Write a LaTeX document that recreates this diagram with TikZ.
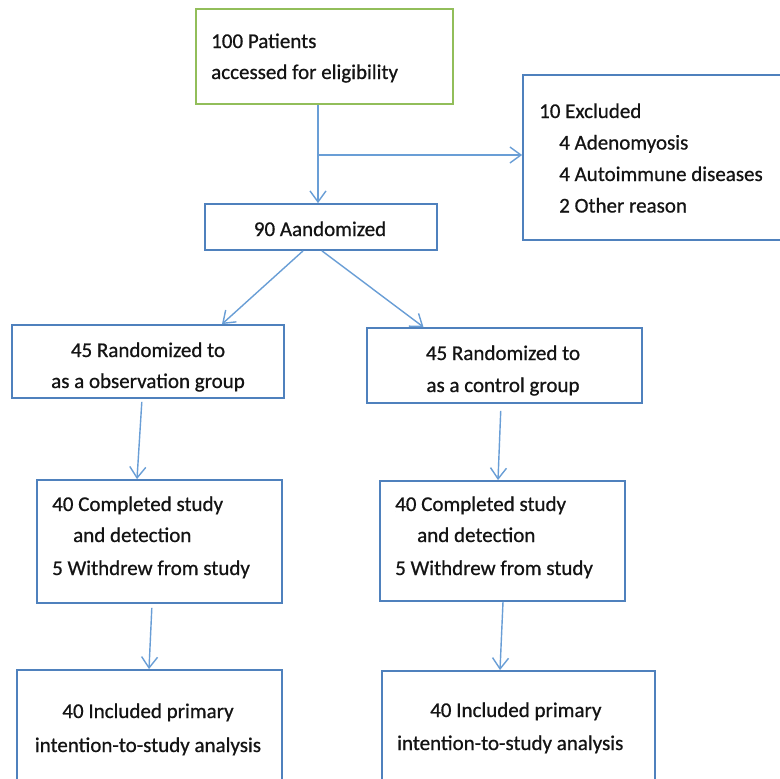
\documentclass[tikz,border=0pt]{standalone}
\usepackage{fontspec}
\setmainfont{Carlito}[FakeBold=0.7]
\usetikzlibrary{arrows.meta}
\definecolor{boxblue}{RGB}{79,129,189}
\definecolor{arrblue}{RGB}{105,158,214}
\definecolor{boxgreen}{RGB}{146,190,90}
\begin{document}
\begin{tikzpicture}[x=1pt,y=-1pt,
  box/.style={draw=boxblue, line width=1.8pt, rectangle, inner sep=0pt},
  gbox/.style={box, draw=boxgreen},
  txt/.style={font=\fontsize{21}{32}\selectfont, inner sep=0pt, text=black!92},
  arr/.style={draw=arrblue, line width=1.4pt, -{Straight Barb[length=11pt,width=16pt]}}]
\useasboundingbox (0,0) rectangle (779,779);
\fill[white] (0,0) rectangle (779,779);

% boxes
\node[gbox, minimum width=257pt, minimum height=95pt] (top) at (324.5,56.5) {};
\node[box, minimum width=277pt, minimum height=165pt] (excl) at (661.5,157.5) {};
\node[box, minimum width=232pt, minimum height=46pt] (rand) at (321,227) {};
\node[box, minimum width=272pt, minimum height=73pt] (obs) at (148,361.5) {};
\node[box, minimum width=275pt, minimum height=75pt] (ctl) at (504.5,365.5) {};
\node[box, minimum width=245pt, minimum height=123pt] (compL) at (159.5,541.5) {};
\node[box, minimum width=245pt, minimum height=120pt] (compR) at (502.5,541) {};
\node[box, minimum width=265pt, minimum height=130pt] (inclL) at (149.5,735) {};
\node[box, minimum width=273pt, minimum height=129pt] (inclR) at (518.5,735.5) {};

% texts
\node[txt, anchor=base west] (t1) at (211,48) {100 Patients};
\node[txt, anchor=base west] (t2) at (211,79) {accessed for eligibility};
\node[txt, anchor=base] (r1) at (320,236) {90 Aandomized};
\node[txt, anchor=base west] (e1) at (539,118) {10 Excluded};
\node[txt, anchor=base west] (e2) at (559,149.5) {4 Adenomyosis};
\node[txt, anchor=base west] (e3) at (559,181) {4 Autoimmune diseases};
\node[txt, anchor=base west] (e4) at (559,212.5) {2 Other reason};
\node[txt, anchor=base] (o1) at (148,357) {45 Randomized to};
\node[txt, anchor=base] (o2) at (148,388) {as a observation group};
\node[txt, anchor=base] (c1) at (503,360) {45 Randomized to};
\node[txt, anchor=base] (c2) at (503,392) {as a control group};
\node[txt, anchor=base west] (l1) at (52,511) {40 Completed study};
\node[txt, anchor=base west] (l2) at (73,542) {and detection};
\node[txt, anchor=base west] (l3) at (52,575) {5 Withdrew from study};
\node[txt, anchor=base west] (m1) at (395,511) {40 Completed study};
\node[txt, anchor=base west] (m2) at (417,542) {and detection};
\node[txt, anchor=base west] (m3) at (395,575) {5 Withdrew from study};
\node[txt, anchor=base] (i1) at (148,718) {40 Included primary};
\node[txt, anchor=base] (i2) at (148,752) {intention-to-study analysis};
\node[txt, anchor=base west] (j1) at (430,717) {40 Included primary};
\node[txt, anchor=base west] (j2) at (397,750) {intention-to-study analysis};

% connectors
\coordinate (br) at (318,155);
\draw[arr] ([xshift=-6.5pt]top.south) -- ([xshift=-3pt]rand.north);
\draw[arr] (br) -- (br -| excl.west);
\draw[arr] ([xshift=-18pt]rand.south) -- ([xshift=74pt]obs.north);
\draw[arr] ([xshift=1pt]rand.south) -- ([xshift=-81pt]ctl.north);
\draw[arr, shorten <=3pt] ([xshift=-6pt]obs.south) -- ([xshift=-22.5pt]compL.north);
\draw[arr, shorten <=7pt] ([xshift=-3.5pt]ctl.south) -- ([xshift=-4.5pt]compR.north);
\draw[arr, shorten <=4pt] ([xshift=-7.5pt]compL.south) -- ([xshift=-0.5pt]inclL.north);
\draw[arr] ([xshift=0.5pt]compR.south) -- ([xshift=-18.5pt]inclR.north);
\end{tikzpicture}
\end{document}
